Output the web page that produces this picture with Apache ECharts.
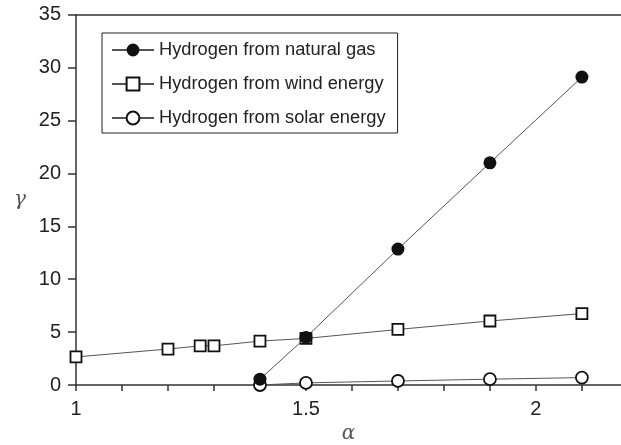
<!DOCTYPE html>
<html>
<head>
<meta charset="utf-8">
<script src="https://cdn.jsdelivr.net/npm/echarts@6/dist/echarts.min.js"></script>
<style>
  html, body { margin: 0; padding: 0; background: #fff; }
  #chart { width: 621px; height: 445px; }
</style>
</head>
<body>
<div id="chart"></div>
<script>
// Ratio alpha (x) against gamma (y) for three hydrogen production routes
const gasAlpha   = [1.4, 1.5, 1.7, 1.9, 2.1];
const gasGamma   = [0.55, 4.5, 12.85, 21.0, 29.1];

const windAlpha  = [1.0, 1.2, 1.27, 1.3, 1.4, 1.5, 1.7, 1.9, 2.1];
const windGamma  = [2.65, 3.4, 3.7, 3.7, 4.15, 4.4, 5.25, 6.05, 6.75];

const solarAlpha = [1.4, 1.5, 1.7, 1.9, 2.1];
const solarGamma = [0.0, 0.2, 0.38, 0.55, 0.7];

const seriesNames = [
  'Hydrogen from natural gas',
  'Hydrogen from wind energy',
  'Hydrogen from solar energy'
];

const xLabels = ['1', '1.5', '2'];

function pairs(xs, ys) {
  return xs.map((x, i) => [x, ys[i]]);
}

const FONT = '"Liberation Sans", Arial, Helvetica, sans-serif';
const INK = '#222';
const LINE = '#555';
const X_MAX = 2.185;

const chart = echarts.init(document.getElementById('chart'), null, { renderer: 'canvas' });

chart.setOption({
  animation: false,
  backgroundColor: '#fff',
  textStyle: { fontFamily: FONT, color: INK },
  grid: { left: 76, right: 0, top: 14.7, bottom: 60, containLabel: false, outerBoundsMode: 'none' },
  legend: {
    orient: 'vertical',
    left: 102,
    top: 33,
    padding: [7, 12, 5, 9],
    borderColor: '#222',
    borderWidth: 1,
    itemWidth: 42,
    itemHeight: 16,
    itemGap: 14,
    textStyle: { fontFamily: FONT, fontSize: 18.3, color: INK, lineHeight: 20 },
    data: seriesNames
  },
  xAxis: [{
    type: 'value',
    min: 1,
    max: X_MAX,
    interval: 0.1,
    name: '\u03b1',
    nameLocation: 'middle',
    nameGap: 39,
    nameTextStyle: { fontFamily: '"DejaVu Serif", "Liberation Serif", serif', fontStyle: 'italic', fontSize: 20, color: '#555' },
    axisLine: { show: true, onZero: false, lineStyle: { color: '#333', width: 1.5 } },
    axisTick: { show: true, inside: false, length: 6, lineStyle: { color: '#333', width: 1.5 } },
    axisLabel: {
      fontSize: 20,
      color: INK,
      margin: 14,
      showMaxLabel: false,
      formatter: function (v) {
        const hit = xLabels.find(l => Math.abs(parseFloat(l) - v) < 1e-6);
        return hit || '';
      }
    },
    splitLine: { show: false }
  }, {
    type: 'value',
    position: 'top',
    min: 1,
    max: X_MAX,
    axisLine: { show: true, onZero: false, lineStyle: { color: '#333', width: 1.5 } },
    axisTick: { show: false },
    axisLabel: { show: false },
    splitLine: { show: false }
  }],
  yAxis: {
    type: 'value',
    min: 0,
    max: 35,
    interval: 5,
    name: '\u03b3',
    nameLocation: 'middle',
    nameRotate: 0,
    nameGap: 50,
    nameTextStyle: { fontFamily: '"DejaVu Serif", "Liberation Serif", serif', fontStyle: 'italic', fontSize: 20, color: '#555', padding: [18, 0, 0, 0] },
    axisLine: { show: true, lineStyle: { color: '#333', width: 1.5 } },
    axisTick: { show: true, inside: false, length: 8, lineStyle: { color: '#333', width: 1.5 } },
    axisLabel: { fontSize: 20, color: INK, margin: 15 },
    splitLine: { show: false }
  },
  series: [{
    name: seriesNames[0],
    type: 'line',
    z: 4,
    data: pairs(gasAlpha, gasGamma),
    symbol: 'circle',
    symbolSize: 13,
    lineStyle: { color: LINE, width: 1 },
    itemStyle: { color: '#111', borderColor: '#111', borderWidth: 0 }
  }, {
    name: seriesNames[1],
    type: 'line',
    z: 3,
    data: pairs(windAlpha, windGamma),
    symbol: 'rect',
    symbolSize: 11,
    lineStyle: { color: LINE, width: 1 },
    itemStyle: { color: '#fff', borderColor: '#111', borderWidth: 1.8 }
  }, {
    name: seriesNames[2],
    type: 'line',
    z: 2,
    data: pairs(solarAlpha, solarGamma),
    symbol: 'circle',
    symbolSize: 12,
    lineStyle: { color: LINE, width: 1 },
    itemStyle: { color: '#fff', borderColor: '#111', borderWidth: 1.8 }
  }]
});
</script>
</body>
</html>
